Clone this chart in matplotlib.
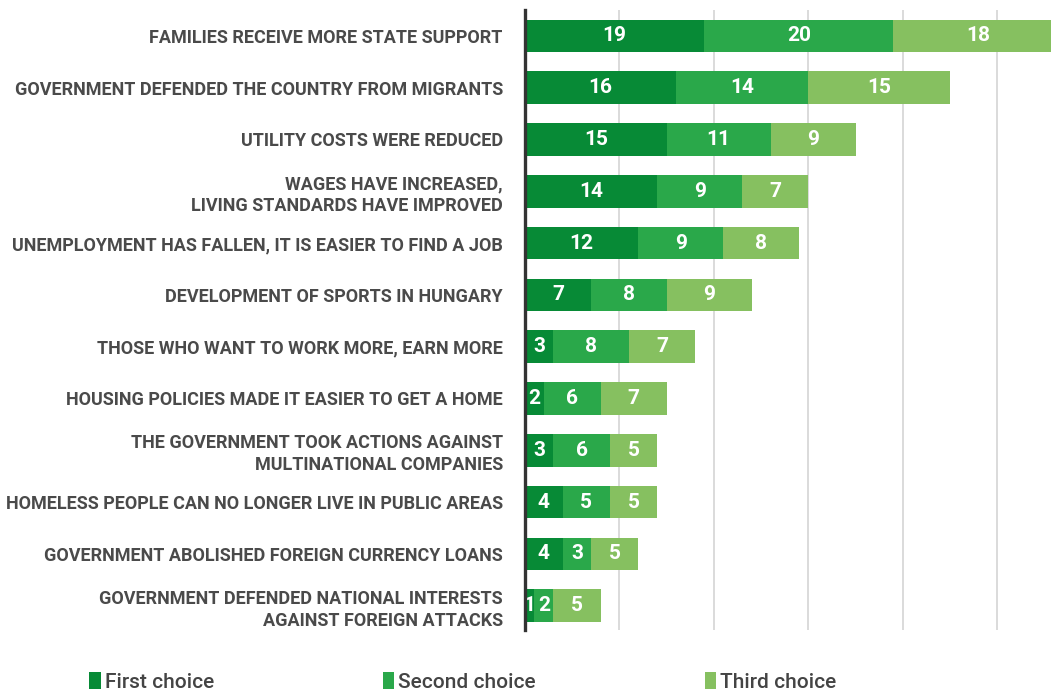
import matplotlib.pyplot as plt
import numpy as np

# data
categories = [
    "FAMILIES RECEIVE MORE STATE SUPPORT",
    "GOVERNMENT DEFENDED THE COUNTRY FROM MIGRANTS",
    "UTILITY COSTS WERE REDUCED",
    "WAGES HAVE INCREASED,\nLIVING STANDARDS HAVE IMPROVED",
    "UNEMPLOYMENT HAS FALLEN, IT IS EASIER TO FIND A JOB",
    "DEVELOPMENT OF SPORTS IN HUNGARY",
    "THOSE WHO WANT TO WORK MORE, EARN MORE",
    "HOUSING POLICIES MADE IT EASIER TO GET A HOME",
    "THE GOVERNMENT TOOK ACTIONS AGAINST\nMULTINATIONAL COMPANIES",
    "HOMELESS PEOPLE CAN NO LONGER LIVE IN PUBLIC AREAS",
    "GOVERNMENT ABOLISHED FOREIGN CURRENCY LOANS",
    "GOVERNMENT DEFENDED NATIONAL INTERESTS\nAGAINST FOREIGN ATTACKS",
]
first_choice = [19, 16, 15, 14, 12, 7, 3, 2, 3, 4, 4, 1]
second_choice = [20, 14, 11, 9, 9, 8, 8, 6, 6, 5, 3, 2]
third_choice = [18, 15, 9, 7, 8, 9, 7, 7, 5, 5, 5, 5]
series_names = ["First choice", "Second choice", "Third choice"]
colors = ["#078a36", "#2aa84a", "#86c060"]

FONT = ["Roboto", "DejaVu Sans"]
plt.rcParams["font.family"] = FONT

fig = plt.figure(figsize=(10.51, 6.90), dpi=100)
ax = fig.add_axes([0.4995, 0.087, 0.5005, 0.8985])

y = np.arange(len(categories))
left = np.zeros(len(categories))
for vals, name, col in zip([first_choice, second_choice, third_choice], series_names, colors):
    vals = np.array(vals, dtype=float)
    bars = ax.barh(y, vals, left=left, height=0.63, color=col, label=name, zorder=3)
    for b, v in zip(bars, vals):
        ax.text(b.get_x() + b.get_width() / 2, b.get_y() + b.get_height() / 2,
                f"{int(v)}", ha="center", va="center", color="white",
                fontsize=15, fontweight="bold", zorder=4)
    left += vals

ax.set_xlim(0, 55.7)
ax.set_ylim(11.47, -0.5)
ax.set_yticks(y)
ax.set_yticklabels(categories, fontsize=13, fontweight="bold", color="#4a4a4a",
                   linespacing=1.3)
ax.tick_params(axis="y", length=0, pad=16)
ax.tick_params(axis="x", length=0, labelbottom=False)
ax.set_xticks([10, 20, 30, 40, 50])
ax.grid(axis="x", color="#d4d4d4", linewidth=1.2, zorder=0)
for s in ["top", "right", "bottom"]:
    ax.spines[s].set_visible(False)
ax.spines["left"].set_color("#333333")
ax.spines["left"].set_linewidth(2.4)
ax.spines["left"].set_zorder(5)

handles, labels = ax.get_legend_handles_labels()
leg = fig.legend(handles, labels, loc="lower left", bbox_to_anchor=(0.067, -0.03),
                 ncol=3, frameon=False, handlelength=0.55, handleheight=0.9,
                 handletextpad=0.2, columnspacing=8.1,
                 prop={"family": FONT, "size": 15, "weight": "medium"})
for t in leg.get_texts():
    t.set_color("#444444")

fig.savefig("out.png", dpi=100)
